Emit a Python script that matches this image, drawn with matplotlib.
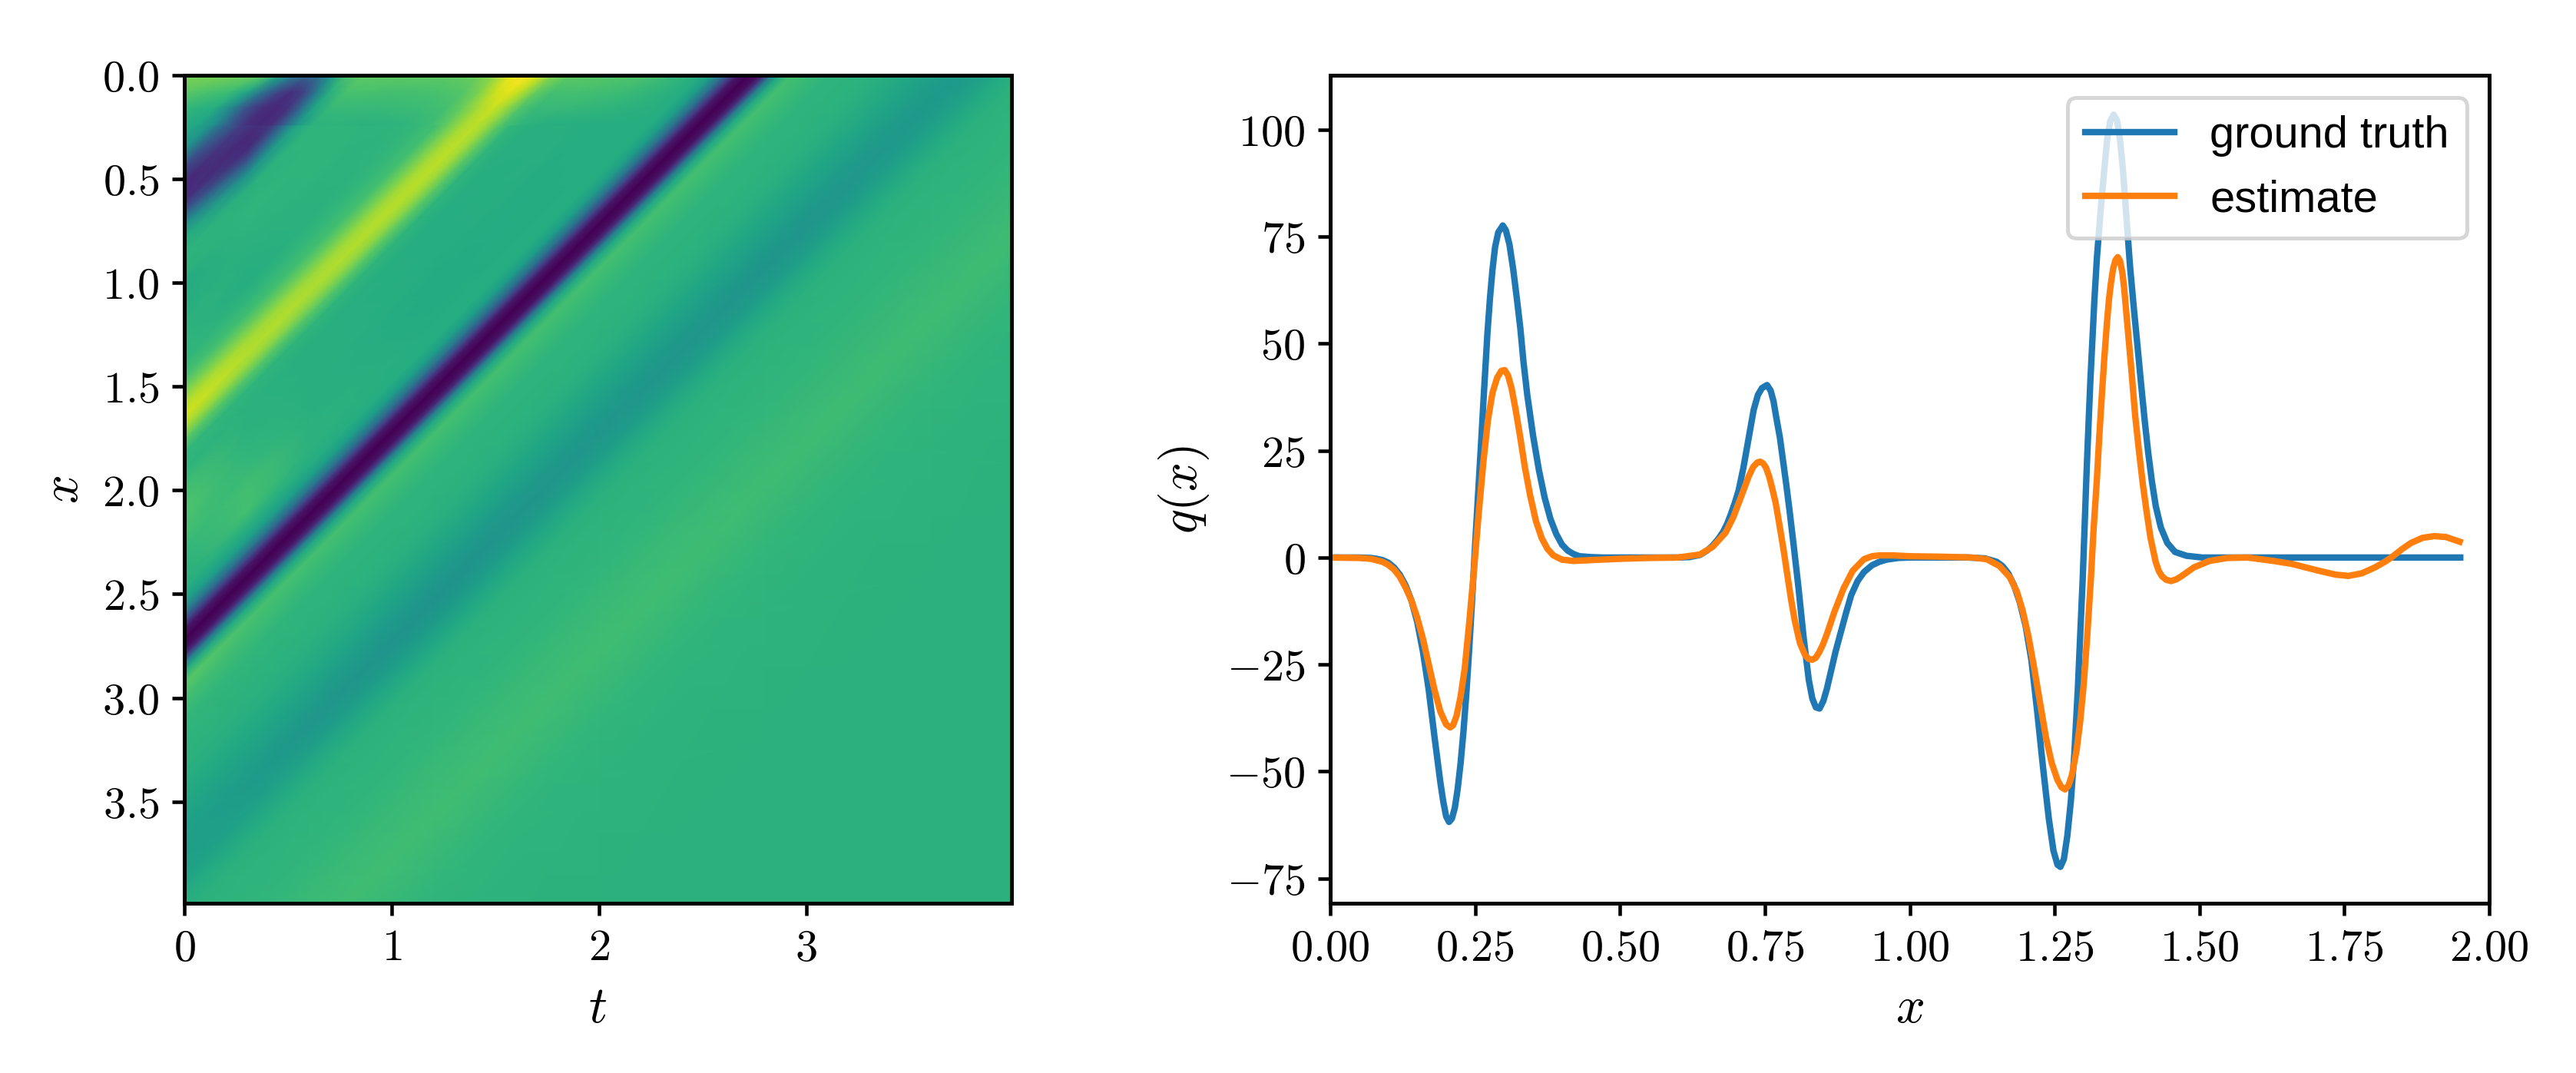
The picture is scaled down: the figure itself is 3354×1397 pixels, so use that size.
import numpy as np
import matplotlib
matplotlib.use('Agg')
import matplotlib.pyplot as plt

plt.rcParams['mathtext.fontset'] = 'cm'
plt.rcParams['font.family'] = ['Liberation Sans', 'DejaVu Sans']

# wave field, read along the diagonals s = x + t at a few times t
t_stations = [0.0, 0.3, 0.6, 1.2, 2.0, 2.8, 3.6, 4.1]
s_stations = [0.00, 0.20, 0.28, 0.36, 0.44, 0.52, 0.60, 0.66, 0.72, 0.78, 0.86, 0.95, 1.00, 1.10, 1.20, 1.30,
              1.38, 1.46, 1.52, 1.58, 1.64, 1.70, 1.76, 1.82, 1.90, 2.00, 2.10, 2.20, 2.30, 2.40,
              2.48, 2.54, 2.60, 2.64, 2.67, 2.72, 2.77, 2.80, 2.83, 2.87, 2.93, 3.00, 3.10, 3.20, 3.35, 3.50,
              3.62, 3.73, 3.85, 3.95, 4.05, 4.15, 4.35, 4.55, 4.77, 4.95, 5.15, 5.40, 6.00, 8.20]
field = [
    [.65, .65, .65, .65, .65, .65, .65, .65],
    [.63, .65, .65, .65, .65, .65, .65, .65],
    [.60, .63, .65, .65, .65, .65, .65, .65],
    [.50, .55, .58, .65, .65, .65, .65, .65],
    [.22, .38, .45, .65, .65, .65, .65, .65],
    [.11, .18, .24, .65, .65, .65, .65, .65],
    [.13, .11, .20, .65, .65, .65, .65, .65],
    [.28, .12, .25, .65, .65, .65, .65, .65],
    [.50, .28, .42, .65, .65, .65, .65, .65],
    [.62, .50, .60, .65, .65, .65, .65, .65],
    [.65, .64, .65, .65, .65, .65, .65, .65],
    [.64, .65, .65, .65, .65, .65, .65, .65],
    [.61, .65, .65, .65, .65, .65, .65, .65],
    [.62, .64, .65, .65, .65, .65, .65, .65],
    [.64, .63, .64, .65, .65, .65, .65, .65],
    [.65, .62, .64, .66, .65, .65, .65, .65],
    [.66, .65, .66, .67, .67, .65, .65, .65],
    [.71, .70, .70, .70, .70, .65, .65, .65],
    [.79, .78, .77, .78, .78, .65, .65, .65],
    [.88, .86, .85, .86, .86, .65, .65, .65],
    [.93, .89, .88, .90, .90, .65, .65, .65],
    [.86, .84, .83, .85, .85, .65, .65, .65],
    [.74, .73, .73, .74, .74, .65, .65, .65],
    [.66, .65, .65, .65, .66, .65, .65, .65],
    [.65, .64, .63, .62, .64, .65, .65, .65],
    [.70, .64, .63, .62, .63, .65, .65, .65],
    [.72, .65, .63, .62, .63, .64, .65, .65],
    [.70, .67, .63, .61, .62, .64, .65, .65],
    [.66, .70, .64, .61, .62, .64, .65, .65],
    [.64, .70, .64, .62, .62, .63, .65, .65],
    [.62, .63, .62, .62, .62, .62, .62, .62],
    [.56, .57, .56, .56, .56, .56, .56, .56],
    [.36, .36, .36, .36, .36, .36, .36, .36],
    [.18, .18, .18, .18, .18, .18, .18, .19],
    [.06, .06, .06, .06, .06, .06, .06, .07],
    [.00, .00, .00, .00, .00, .00, .01, .01],
    [.04, .04, .04, .04, .04, .04, .05, .05],
    [.16, .16, .16, .16, .16, .16, .16, .16],
    [.40, .40, .40, .40, .40, .40, .40, .40],
    [.61, .60, .60, .60, .60, .60, .60, .60],
    [.74, .71, .70, .70, .70, .70, .69, .69],
    [.70, .69, .68, .68, .68, .68, .68, .68],
    [.66, .66, .65, .65, .65, .65, .65, .65],
    [.65, .645, .645, .645, .645, .645, .645, .645],
    [.635, .635, .635, .635, .635, .635, .635, .635],
    [.60, .60, .595, .59, .59, .59, .595, .60],
    [.57, .565, .555, .545, .55, .55, .56, .57],
    [.56, .55, .53, .515, .53, .52, .54, .55],
    [.575, .57, .56, .55, .56, .555, .565, .57],
    [.615, .61, .61, .605, .61, .61, .61, .615],
    [.64, .64, .64, .64, .64, .64, .64, .64],
    [.645, .645, .645, .645, .645, .645, .645, .645],
    [.655, .655, .655, .655, .655, .655, .655, .655],
    [.67, .67, .675, .675, .675, .67, .67, .67],
    [.68, .69, .695, .695, .695, .69, .69, .69],
    [.665, .67, .675, .675, .675, .67, .67, .67],
    [.65, .655, .655, .655, .655, .655, .655, .655],
    [.645, .645, .645, .645, .645, .645, .645, .645],
    [.64, .64, .64, .64, .64, .64, .64, .64],
    [.64, .64, .64, .64, .64, .64, .64, .64],
]

# brighter layer along the top edge, also read along the diagonals s = x + t
strip_s = [0.0, 0.1, 0.2, 0.3, 0.38, 0.46, 0.54, 0.6, 0.66, 0.72, 0.78, 0.86, 0.95,
           1.1, 1.3, 1.42, 1.5, 1.58, 1.64, 1.7, 1.78, 1.86, 2.0, 2.2, 2.4, 2.48]
strip_x = [0.0, 0.08, 0.16, 0.24]
strip_field = [
    [.80, .80, .79, .78, .74, .58, .40, .33, .40, .57, .70, .75, .75,
     .75, .75, .78, .84, .97, 1.0, .95, .81, .75, .74, .72, .66, .62],
    [.75, .74, .71, .68, .60, .38, .20, .14, .20, .42, .62, .71, .71,
     .70, .71, .73, .80, .92, .96, .90, .76, .70, .70, .68, .64, .62],
    [.68, .68, .65, .62, .47, .24, .13, .11, .15, .34, .58, .67, .67,
     .67, .68, .70, .77, .87, .92, .86, .72, .67, .67, .65, .63, .62],
    [.62, .62, .62, .60, .50, .28, .13, .11, .13, .30, .52, .64, .65,
     .64, .65, .68, .75, .86, .90, .85, .71, .65, .62, .62, .62, .62],
]

# q(x) curves
truth_x = [0.0, 0.05, 0.07, 0.08, 0.09, 0.10, 0.11, 0.12, 0.13, 0.14, 0.15, 0.16, 0.17, 0.18, 0.19, 0.195, 0.20,
           0.205, 0.21, 0.215, 0.22, 0.225, 0.23, 0.235, 0.24, 0.245, 0.25, 0.255, 0.26, 0.265, 0.2713, 0.2757,
           0.28, 0.2845, 0.29, 0.2978, 0.303, 0.3092, 0.3158, 0.3224, 0.3281, 0.3334, 0.34, 0.35, 0.36, 0.37,
           0.38, 0.39, 0.40, 0.41, 0.42, 0.43, 0.45, 0.47, 0.60, 0.62, 0.638, 0.65, 0.66, 0.67, 0.678, 0.685,
           0.691, 0.698, 0.7046, 0.713, 0.722, 0.7307, 0.738, 0.745, 0.7538, 0.76, 0.765, 0.77, 0.776, 0.7815,
           0.787, 0.7926, 0.80, 0.808, 0.8169, 0.8258, 0.832, 0.838, 0.8444, 0.851, 0.857, 0.8634, 0.872, 0.881,
           0.89, 0.899, 0.91, 0.921, 0.935, 0.9476, 0.96, 0.98, 1.0, 1.10, 1.13, 1.15, 1.16, 1.17, 1.18, 1.19,
           1.20, 1.21, 1.22, 1.23, 1.24, 1.248, 1.255, 1.26, 1.266, 1.272, 1.278, 1.284, 1.29, 1.2985, 1.302,
           1.3052, 1.3088, 1.3118, 1.3154, 1.3186, 1.323, 1.33, 1.336, 1.341, 1.346, 1.352, 1.358, 1.363, 1.368,
           1.374, 1.3802, 1.3869, 1.3935, 1.3993, 1.4055, 1.4113, 1.418, 1.4246, 1.4334, 1.4445, 1.4578, 1.4777,
           1.505, 1.95]
truth_q = [0.0, 0.0, -0.1, -0.3, -0.6, -1.2, -2.3, -4.0, -6.5, -10.0, -15.0, -22.0, -31.0, -42.0, -52.5, -57.0, -60.5,
           -61.8, -61.0, -58.5, -54.0, -48.0, -40.5, -31.5, -21.0, -9.5, 3.0, 14.5, 26.0, 38.0, 52.5, 60.7,
           67.3, 72.6, 76.0, 77.6, 76.5, 73.2, 67.3, 60.1, 53.5, 45.8, 38.0, 28.5, 20.5, 14.0,
           9.0, 5.5, 3.0, 1.6, 0.8, 0.3, 0.1, 0.0, 0.0, 0.1, 0.6, 1.6, 2.8, 4.4, 6.0, 7.9,
           10.0, 12.7, 15.6, 21.0, 27.9, 34.5, 38.0, 39.6, 40.3, 39.0, 36.5, 32.5, 28.0, 22.5,
           17.0, 11.0, 2.5, -7.0, -18.7, -28.6, -33.0, -35.0, -35.3, -33.5, -30.7, -27.0, -22.0, -17.5,
           -13.0, -8.8, -5.5, -3.4, -1.8, -1.0, -0.5, -0.1, 0.0, 0.0, -0.2, -1.0, -2.0, -3.7, -6.5, -10.5,
           -16.0, -24.0, -36.0, -49.0, -61.0, -68.5, -71.8, -72.3, -70.5, -65.0, -57.0, -46.0, -31.0, -5.0, 8.0,
           20.0, 32.0, 41.5, 51.5, 60.0, 70.0, 82.0, 91.0, 98.0, 102.0, 103.5, 102.0, 97.5, 90.5,
           79.5, 68.0, 58.0, 48.8, 40.5, 32.0, 24.8, 17.7, 12.0, 7.0, 3.4, 1.3, 0.4,
           0.0, 0.0]
estimate_x = [0.0, 0.05, 0.07, 0.09, 0.10, 0.11, 0.12, 0.13, 0.14, 0.15, 0.16, 0.17, 0.18, 0.19, 0.20, 0.207, 0.212,
              0.218, 0.225, 0.232, 0.24, 0.248, 0.256, 0.264, 0.272, 0.28, 0.288, 0.295, 0.301, 0.307, 0.313, 0.32,
              0.328, 0.336, 0.345, 0.355, 0.365, 0.375, 0.385, 0.40, 0.42, 0.45, 0.50, 0.55, 0.60, 0.638, 0.66,
              0.6822, 0.6955, 0.7087, 0.722, 0.73, 0.737, 0.7418, 0.747, 0.752, 0.7575, 0.763, 0.7686, 0.7752, 0.7818,
              0.7885, 0.7951, 0.8017, 0.8105, 0.8194, 0.8255, 0.8317, 0.838, 0.8436, 0.85, 0.8568, 0.87, 0.8859, 0.9016,
              0.921, 0.935, 0.9476, 0.97, 1.0, 1.05, 1.108, 1.133, 1.155, 1.1727, 1.185, 1.195, 1.205, 1.215, 1.225,
              1.235, 1.245, 1.255, 1.262, 1.268, 1.274, 1.28, 1.288, 1.294, 1.30, 1.306, 1.3126, 1.317, 1.323, 1.3272,
              1.3316, 1.336, 1.3404, 1.344, 1.3471, 1.351, 1.355, 1.359, 1.363, 1.367, 1.37, 1.3758, 1.3824, 1.389,
              1.3956, 1.4023, 1.4089, 1.4155, 1.4244, 1.43, 1.4354, 1.4425, 1.4509, 1.46, 1.4685, 1.4905, 1.5171, 1.548,
              1.5833, 1.6276, 1.66, 1.703, 1.735, 1.757, 1.78, 1.803, 1.82, 1.831, 1.85, 1.865, 1.885, 1.905, 1.925, 1.949]
estimate_q = [0.0, -0.1, -0.3, -1.0, -1.7, -2.8, -4.5, -7.0, -10.0, -14.0, -19.0, -25.0, -31.0, -36.0, -39.0, -39.7, -39.2,
              -37.0, -32.5, -26.0, -15.0, -3.0, 10.0, 22.0, 32.0, 38.5, 42.0, 43.6, 43.8, 42.5, 39.5, 34.5,
              28.0, 21.0, 14.5, 8.5, 4.5, 2.0, 0.5, -0.5, -0.8, -0.6, -0.3, -0.1, 0.0, 0.7, 2.5,
              5.8, 9.4, 14.1, 18.9, 21.2, 22.2, 22.4, 22.0, 21.0, 18.9, 16.0, 12.8, 7.6, 2.2,
              -3.8, -9.7, -14.8, -20.0, -22.8, -23.7, -23.9, -23.4, -22.2, -20.4, -18.0, -12.7, -7.2, -3.1,
              -0.4, 0.3, 0.5, 0.5, 0.3, 0.2, 0.0, -0.4, -2.0, -4.6, -8.0, -12.5, -18.5, -26.0, -34.0,
              -42.0, -48.0, -52.0, -53.7, -54.2, -53.3, -50.8, -45.0, -38.5, -30.0, -19.0, -5.0, 6.0, 18.3, 28.5,
              38.0, 47.0, 55.0, 60.5, 64.0, 67.5, 69.5, 70.2, 69.3, 66.5, 63.0, 54.1, 44.0, 33.2,
              24.9, 17.1, 10.6, 4.6, -1.0, -3.2, -4.4, -5.2, -5.5, -5.1, -4.4, -2.3, -0.8, -0.1,
              0.0, -0.8, -1.5, -3.0, -4.0, -4.3, -3.7, -2.3, -1.0, 0.0, 2.0, 3.4, 4.6, 5.0, 4.8, 3.7]

x_ticks_left = [0, 1, 2, 3]
y_ticks_left = [0.0, 0.5, 1.0, 1.5, 2.0, 2.5, 3.0, 3.5]
x_ticks_right = [0.0, 0.25, 0.5, 0.75, 1.0, 1.25, 1.5, 1.75, 2.0]
y_ticks_right = [-75, -50, -25, 0, 25, 50, 75, 100]

W, H = 3354, 1397
fig = plt.figure(figsize=(W / 300, H / 300), dpi=300)
ax1 = fig.add_axes([240 / W, 1 - 1176 / H, 1077 / W, 1078 / H])
ax2 = fig.add_axes([1732 / W, 1 - 1176 / H, 1509 / W, 1078 / H])

# left: field
T, S = np.meshgrid(t_stations, s_stations)
ax1.pcolormesh(T, S - T, np.array(field), shading='gouraud', cmap='viridis', vmin=0, vmax=1)
Ss, Xs = np.meshgrid(strip_s, strip_x)
ax1.pcolormesh(Ss - Xs, Xs, np.array(strip_field), shading='gouraud', cmap='viridis', vmin=0, vmax=1)
ax1.set_xlim(0, 3.99)
ax1.set_ylim(3.99, 0)
ax1.set_xticks(x_ticks_left)
ax1.set_xticklabels(['$%d$' % v for v in x_ticks_left])
ax1.set_yticks(y_ticks_left)
ax1.set_yticklabels(['$%.1f$' % v for v in y_ticks_left])
ax1.set_xlabel('$t$', fontsize=16, labelpad=5)
ax1.set_ylabel('$x$', fontsize=16, labelpad=4.5)

# right: curves
ax2.plot(truth_x, truth_q, color='#1f77b4', lw=2, label='ground truth')
ax2.plot(estimate_x, estimate_q, color='#ff7f0e', lw=2, label='estimate')
ax2.set_xlim(0, 2)
ax2.set_ylim(-80.8, 112.7)
ax2.set_xticks(x_ticks_right)
ax2.set_xticklabels(['$%.2f$' % v for v in x_ticks_right])
ax2.set_yticks(y_ticks_right)
ax2.set_yticklabels(['$%d$' % v for v in y_ticks_right])
ax2.set_xlabel('$x$', fontsize=16, labelpad=5)
ax2.set_ylabel('$q(x)$', fontsize=16, labelpad=4.5)
leg = ax2.legend(loc='upper right', fontsize=13.9, framealpha=0.8, edgecolor='0.8')
leg.get_frame().set_linewidth(1.2)

for ax in (ax1, ax2):
    for sp in ax.spines.values():
        sp.set_linewidth(1.2)
    ax.tick_params(length=3.8, width=1.1, labelsize=14, pad=4)

fig.savefig('out.png', dpi=300)
